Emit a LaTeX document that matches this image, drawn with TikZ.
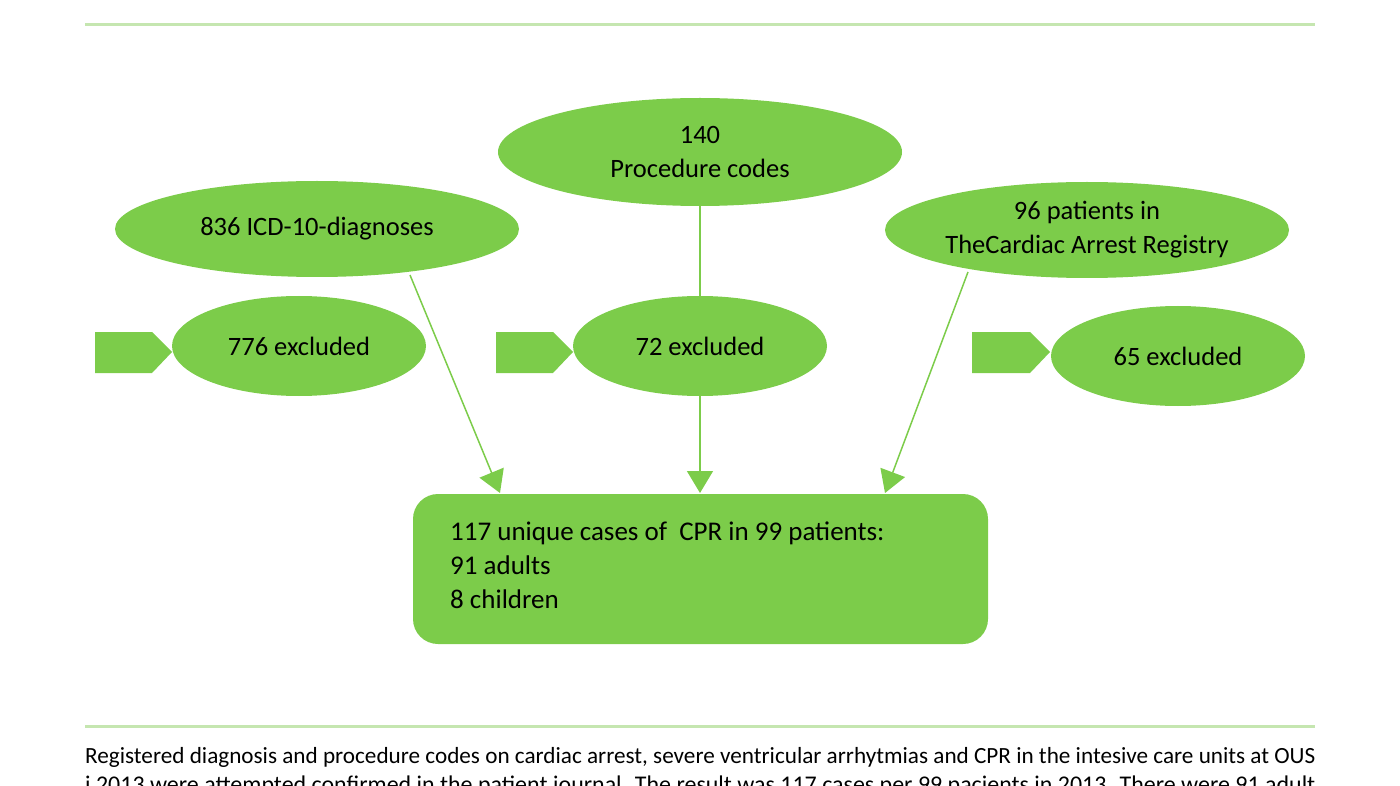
\documentclass[tikz,border=0pt]{standalone}
\usepackage{fontspec}
\setmainfont{Carlito}
\usetikzlibrary{arrows.meta,shapes.geometric}
\definecolor{g}{HTML}{7CCC4A}
\definecolor{lg}{HTML}{C5E6B0}
\begin{document}
\begin{tikzpicture}[x=1pt,y=-1pt,
 ell/.style={ellipse,fill=g,inner sep=0pt,font=\fontsize{26.5}{34}\selectfont,align=center},
 conn/.style={draw=g,line width=1.5pt,-{Triangle[width=26pt,length=22pt]}},
 pent/.style={fill=g}]
\useasboundingbox (0,0) rectangle (1400,786);
\clip (0,0) rectangle (1400,786);
\draw[lg,line width=3pt] (85,25) -- (1315,25);
\draw[lg,line width=3pt] (85,726) -- (1315,726);
\node[ell,minimum width=404pt,minimum height=108pt] (pc) at (700,152) {140\\Procedure codes};
\node[ell,minimum width=404pt,minimum height=96pt] (icd) at (317,229) {836 ICD-10-diagnoses};
\node[ell,minimum width=404pt,minimum height=96pt] (reg) at (1087,230) {96 patients in\\TheCardiac Arrest Registry};
\node[ell,minimum width=254pt,minimum height=100pt] (e1) at (299,346) {776 excluded};
\node[ell,minimum width=254pt,minimum height=100pt] (e2) at (700,346) {72 excluded};
\node[ell,minimum width=254pt,minimum height=100pt] (e3) at (1178,356) {65 excluded};
\fill[pent] (95,332) -- (152,332) -- (172,352) -- (152,373) -- (95,373) -- cycle;
\fill[pent] (496,332) -- (553,332) -- (573,352) -- (553,373) -- (496,373) -- cycle;
\fill[pent] (972,332) -- (1030,332) -- (1050,352) -- (1030,373) -- (972,373) -- cycle;
\node[fill=g,rounded corners=25pt,minimum width=575pt,minimum height=150pt,inner sep=0pt] (box) at (700.5,569) {};
\node[anchor=north west,align=left,font=\fontsize{27}{34}\selectfont,inner sep=0pt] (bt) at (450,522) {117 unique cases of\ \ CPR in 99 patients:\\91 adults\\8 children};
\coordinate (a1) at (500,493);
\coordinate (a2) at (700,493);
\coordinate (a3) at (885,493);
\draw[conn] (410,275) -- (a1);
\draw[draw=g,line width=1.5pt] (pc.south) -- (e2.north);
\draw[conn] (e2.south) -- (a2);
\draw[conn] (968,272) -- (a3);
\node[anchor=west,inner sep=0pt,font=\fontsize{23}{29}\selectfont,align=left] (cap) at (85,772) {\resizebox{1230pt}{!}{Registered diagnosis and procedure codes on cardiac arrest, severe ventricular arrhytmias and CPR in the intesive care units at OUS}\\\resizebox{1230pt}{!}{i 2013 were attempted confirmed in the patient journal. The result was 117 cases per 99 pacients in 2013. There were 91 adult}};
\end{tikzpicture}
\end{document}
